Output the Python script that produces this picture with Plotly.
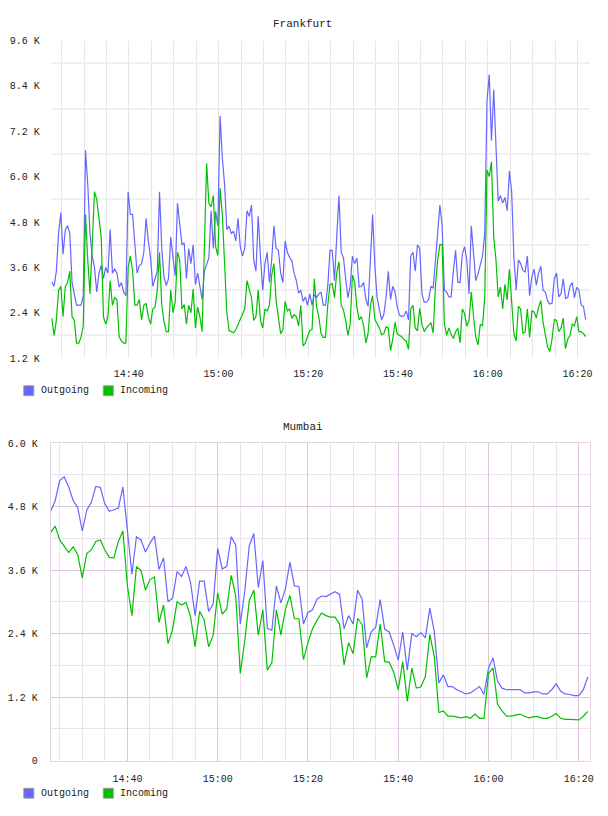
import numpy as np
import pandas as pd
import plotly.graph_objects as go

# ---------------- data (values in thousands) ----------------
fra_start = "2024-01-01 14:22:50"   # 30 s samples
fra_outgoing = [
    3.21, 3.1, 3.5, 4.5, 5.05, 3.95, 4.6, 4.7, 4.5, 3.2,
    2.9, 2.6, 2.6, 2.6, 2.85, 6.7, 5.8, 4.5, 3.9, 3.6,
    2.95, 3.45, 3.65, 3.3, 3.6, 3.45, 4.6, 3.45, 3.55, 3.45,
    3.08, 3.2, 2.95, 2.85, 5.6, 5.0, 5.0, 4.15, 3.45, 3.65,
    3.7, 4.0, 4.9, 4.3, 3.86, 3.1, 3.3, 3.5, 5.6, 4.1,
    3.35, 3.12, 3.3, 4.4, 3.86, 3.38, 5.3, 4.7, 4.2, 4.25,
    3.3, 4.1,
    3.7, 4.2, 3.15, 3.45, 3.05, 2.75, 3.5, 3.65, 3.85, 5.1,
    4.1, 5.08, 4.7, 7.6, 6.5, 5.8, 4.6, 4.69, 4.5, 4.56,
    4.3, 4.9, 4.15, 3.9, 4.1, 5.1, 4.95, 5.25, 3.8, 3.5,
    4.95, 3.9, 3.0, 3.7, 4.0, 3.2, 3.8, 4.7, 4.1, 4.05,
    3.45, 3.2, 4.3, 4.0, 3.86, 3.78, 3.45, 3.25, 2.92, 3.0,
    2.7, 2.82, 2.6, 2.9, 2.6, 2.88, 2.8, 2.9, 2.95, 2.6,
    2.6, 3.1, 4.05, 4.05, 3.25, 4.4, 5.5, 4.0, 3.86, 3.3,
    2.8, 3.1, 3.9, 3.7, 3.85, 3.08, 3.1, 3.2, 2.75, 2.57,
    3.9, 5.0, 3.65, 2.8, 2.5, 2.21, 2.36, 2.8, 3.5, 2.75,
    3.1, 2.95, 2.55, 2.34, 2.3, 2.32, 2.45, 2.21, 3.9, 4.0,
    3.5, 4.2, 4.1, 2.9, 2.68, 2.68, 2.75, 3.1, 3.05, 3.69,
    4.5, 5.25, 4.7, 3.0, 2.95, 2.82, 2.82, 3.5, 4.05, 3.21,
    3.2,
    3.95, 4.15, 3.8, 2.9, 4.7, 3.95, 3.25, 3.43, 3.7, 3.9,
    4.5, 8.0, 8.7, 6.95, 8.3, 6.8, 5.35, 5.5, 5.3, 5.45,
    5.1, 6.15, 5.6, 3.85, 3.0, 3.8, 3.7, 3.52, 3.48, 3.9,
    2.85, 3.35, 3.55, 3.13, 3.45, 3.63, 3.0, 2.95, 2.72, 2.63,
    2.65, 3.3, 3.45, 2.82, 2.9, 3.3, 2.78, 2.8, 3.1, 3.2,
    2.8, 3.07, 3.0, 2.6, 2.57, 2.22,
]
fra_incoming = [
    2.25, 1.8, 2.2, 3.0, 3.1, 2.3, 3.1, 3.2, 3.5, 2.3,
    2.2, 1.6, 1.6, 1.75, 2.05, 5.0, 3.8, 2.9, 4.2, 5.6,
    5.4, 4.95, 4.4, 2.3, 2.1, 2.3, 3.25, 2.6, 2.8, 2.75,
    1.77, 1.65, 1.6, 1.6, 3.6, 3.9, 3.5, 2.6, 2.6, 2.75,
    2.21, 2.6, 2.65, 2.3, 2.1, 2.5, 2.55, 3.0, 4.0, 2.6,
    2.17, 1.9, 1.9, 3.0, 2.4, 2.7, 4.0, 3.8, 2.5, 2.62,
    2.1, 2.6,
    2.4, 3.03, 2.0, 2.55, 2.3, 1.9, 4.0, 6.35, 5.3, 5.2,
    5.5, 4.15, 3.92, 5.7, 5.0, 3.5, 2.42, 1.93, 1.9, 1.87,
    1.95, 2.1, 2.25, 2.38, 2.5, 3.25, 3.0, 2.8, 2.2, 2.3,
    3.0, 2.2, 2.0, 2.5, 2.45, 2.6, 3.4, 3.7, 2.7, 2.33,
    1.85, 1.95, 2.7, 2.45, 2.5, 2.25, 2.35, 2.3, 2.05, 2.6,
    1.52, 1.6, 1.8, 1.93, 1.95, 3.3, 2.56, 2.3, 1.86, 1.75,
    1.75, 2.6, 3.15, 3.17, 2.8, 3.45, 3.75, 2.6, 2.47, 2.2,
    1.8, 2.1, 3.4, 3.2, 2.55, 2.21, 2.3, 2.05, 1.6, 1.86,
    2.6, 2.85, 2.23, 2.12, 2.0, 1.82, 1.85, 2.03, 2.0, 1.4,
    1.71, 2.15, 1.84, 1.8, 1.77, 1.69, 1.65, 1.43, 2.5, 2.6,
    2.0, 1.92, 2.52, 2.1, 1.9, 2.0, 2.07, 2.14, 1.86, 3.1,
    3.8, 4.2, 4.2, 2.1, 1.8, 2.0, 1.83, 1.72, 1.9, 1.99,
    1.6,
    2.5, 2.38, 2.05, 2.2, 2.95, 2.3, 1.75, 1.55, 2.1, 2.05,
    2.8, 6.18, 6.0, 6.4, 4.4, 3.8, 2.82, 3.08, 2.5, 3.15,
    2.74, 3.55, 2.65, 1.85, 1.65, 2.57, 2.5, 1.85, 1.9, 2.5,
    1.75, 2.45, 2.42, 2.26, 2.55, 2.72, 2.15, 1.8, 1.5, 1.38,
    1.7, 2.22, 2.2, 1.9, 2.0, 2.26, 1.45, 1.7, 1.8, 2.1,
    2.05, 2.3, 1.9, 1.9, 1.85, 1.77,
]

mum_start = "2024-01-01 14:23:00"   # 1 min samples
mum_outgoing = [
    4.71, 4.91, 5.29, 5.36, 5.17, 4.91, 4.78, 4.34, 4.73, 4.88,
    5.18, 5.16, 4.85, 4.71, 4.74, 4.77, 5.17, 4.35, 3.52, 4.23,
    4.17, 3.94, 4.11, 4.24, 3.61, 3.83, 3.0, 3.07, 3.57, 3.48,
    3.67, 3.36, 2.74, 3.39, 3.39, 2.82, 2.96, 4.01, 3.62, 3.67,
    4.23, 4.07, 2.58, 3.2, 4.06, 4.29, 3.27, 3.78, 2.5, 2.46,
    3.3, 2.98, 3.24, 3.75, 3.3, 3.29, 2.58, 2.8, 2.85, 3.05,
    3.11, 3.1, 3.14, 3.19, 3.14, 2.49, 2.74, 2.58, 3.22, 3.05,
    2.13, 2.43, 2.52, 3.04, 2.48, 2.43, 2.18, 1.9, 2.43, 1.71,
    2.4, 2.34, 2.42, 2.32, 2.88, 2.43, 1.47, 1.62, 1.4, 1.4,
    1.34, 1.3, 1.26, 1.28, 1.34, 1.4, 1.25, 1.75, 1.94, 1.5,
    1.37, 1.34, 1.34, 1.34, 1.34, 1.28, 1.28, 1.3, 1.3, 1.26,
    1.26, 1.34, 1.45, 1.31, 1.26, 1.25, 1.23, 1.23, 1.34, 1.58,
]
mum_incoming = [
    4.31, 4.43, 4.17, 4.04, 3.93, 4.04, 3.89, 3.45, 3.91, 3.98,
    4.14, 4.17, 3.98, 3.84, 3.83, 4.14, 4.34, 3.3, 2.74, 3.66,
    3.6, 3.22, 3.42, 3.47, 2.61, 2.94, 2.21, 2.47, 3.0, 2.94,
    2.99, 2.71, 2.15, 2.82, 2.66, 2.15, 2.37, 3.17, 2.77, 2.86,
    3.5, 3.11, 1.65, 2.27, 3.02, 3.22, 2.37, 2.85, 1.71, 1.85,
    2.85, 2.37, 2.86, 3.12, 2.68, 2.68, 1.91, 2.23, 2.49, 2.65,
    2.79, 2.74, 2.71, 2.71, 2.58, 1.81, 2.23, 2.02, 2.69, 2.57,
    1.56, 1.96, 1.96, 2.58, 1.87, 1.86, 1.67, 1.34, 1.87, 1.12,
    1.75, 1.37, 1.39, 1.59, 2.38, 1.96, 0.91, 0.94, 0.84, 0.84,
    0.83, 0.81, 0.83, 0.8, 0.88, 0.8, 0.8, 1.65, 1.75, 1.07,
    0.94, 0.84, 0.84, 0.86, 0.88, 0.84, 0.81, 0.83, 0.83, 0.8,
    0.8, 0.84, 0.89, 0.8, 0.78, 0.78, 0.77, 0.77, 0.84, 0.93,
]

series_names = ["Outgoing", "Incoming"]
fra_ticks = [1.2, 2.4, 3.6, 4.8, 6.0, 7.2, 8.4, 9.6]
fra_ticktext = ["1.2 K", "2.4 K", "3.6 K", "4.8 K", "6.0 K", "7.2 K", "8.4 K", "9.6 K"]
fra_grid = [1.8, 3.0, 4.2, 5.4, 6.6, 7.8, 9.0]
mum_ticks = [0, 1.2, 2.4, 3.6, 4.8, 6.0]
mum_ticktext = ["0", "1.2 K", "2.4 K", "3.6 K", "4.8 K", "6.0 K"]
mum_grid = [0.6, 1.8, 3.0, 4.2, 5.4]

# ---------------- styling ----------------
W, H = 608, 816
C_OUT = "#6666ff"
C_IN = "#00c000"
FONT = "Liberation Mono"
TXT = "#222222"

def px(x):
    return x / W

def py(y):
    return 1 - y / H

fra_t = pd.date_range(fra_start, periods=len(fra_outgoing), freq="30s")
mum_t = pd.date_range(mum_start, periods=len(mum_outgoing), freq="60s")

fig = go.Figure()
fig.add_trace(go.Scatter(x=fra_t, y=fra_outgoing, mode="lines", name=series_names[0],
                         line=dict(color=C_OUT, width=1.2), xaxis="x", yaxis="y", showlegend=False))
fig.add_trace(go.Scatter(x=fra_t, y=fra_incoming, mode="lines", name=series_names[1],
                         line=dict(color=C_IN, width=1.2), xaxis="x", yaxis="y", showlegend=False))
fig.add_trace(go.Scatter(x=mum_t, y=mum_outgoing, mode="lines", name=series_names[0],
                         line=dict(color=C_OUT, width=1.2), xaxis="x2", yaxis="y2", showlegend=False))
fig.add_trace(go.Scatter(x=mum_t, y=mum_incoming, mode="lines", name=series_names[1],
                         line=dict(color=C_IN, width=1.2), xaxis="x2", yaxis="y2", showlegend=False))

tickfont = dict(family=FONT, size=10, color=TXT)
xdom = [px(51), px(594)]

fig.update_layout(
    width=W, height=H,
    margin=dict(l=0, r=0, t=0, b=0),
    paper_bgcolor="white", plot_bgcolor="white",
    xaxis=dict(
        domain=xdom, anchor="y", type="date",
        range=["2024-01-01 14:22:34", "2024-01-01 16:22:49"],
        tick0="2024-01-01 14:40", dtick=20 * 60 * 1000, tickformat="%H:%M",
        showgrid=True, gridcolor="#e6e6e6", gridwidth=1,
        minor=dict(tick0="2024-01-01 14:25", dtick=5 * 60 * 1000, showgrid=True,
                   gridcolor="#e6e6e6", gridwidth=1),
        showline=False, zeroline=False, ticks="", tickfont=tickfont,
        ticklabelstandoff=8, fixedrange=True,
    ),
    yaxis=dict(
        domain=[py(359), py(37)], anchor="x",
        range=[1.2, 9.6], tickmode="array", tickvals=fra_ticks, ticktext=fra_ticktext,
        showgrid=False,
        minor=dict(tickmode="array", tickvals=fra_grid, showgrid=True,
                   gridcolor="#f0f0f0", gridwidth=2),
        showline=False, zeroline=False, ticks="", tickfont=tickfont,
        ticklabelstandoff=10,
    ),
    xaxis2=dict(
        domain=xdom, anchor="y2", type="date",
        range=["2024-01-01 14:23:00", "2024-01-01 16:22:30"],
        tick0="2024-01-01 14:40", dtick=20 * 60 * 1000, tickformat="%H:%M",
        showgrid=True, gridcolor="#dcc4dc", gridwidth=1,
        minor=dict(tick0="2024-01-01 14:25", dtick=5 * 60 * 1000, showgrid=True,
                   gridcolor="#ebe3eb", gridwidth=1),
        showline=True, linecolor="#e4d4e4", mirror=True,
        zeroline=False, ticks="", tickfont=tickfont,
        ticklabelstandoff=8,
    ),
    yaxis2=dict(
        domain=[py(767), py(445)], anchor="x2",
        range=[0, 6.0], tickmode="array", tickvals=mum_ticks, ticktext=mum_ticktext,
        showgrid=True, gridcolor="#dcc4dc", gridwidth=1,
        minor=dict(tickmode="array", tickvals=mum_grid, showgrid=True,
                   gridcolor="#ebe3eb", gridwidth=1),
        showline=True, linecolor="#e4d4e4", mirror=True,
        zeroline=False, ticks="", tickfont=tickfont,
        ticklabelstandoff=10,
    ),
)

# titles
for title, ycen in [("Frankfurt", 20), ("Mumbai", 429)]:
    fig.add_annotation(text=title, x=px(305), y=py(ycen), xref="paper", yref="paper",
                       showarrow=False, xanchor="center", yanchor="middle",
                       font=dict(family=FONT, size=11, color=TXT))

# legends (square swatch + label) below each panel
shapes = []
for ycen in [392, 800]:
    for (x0, label, color) in [(24, series_names[0], C_OUT), (104, series_names[1], C_IN)]:
        shapes.append(dict(type="rect", xref="paper", yref="paper",
                           x0=px(x0), x1=px(x0 + 10), y0=py(ycen + 5), y1=py(ycen - 5),
                           fillcolor=color, line=dict(color="#999999", width=1)))
        fig.add_annotation(text=label, x=px(x0 + 15), y=py(ycen), xref="paper", yref="paper",
                           showarrow=False, xanchor="left", yanchor="middle",
                           font=dict(family=FONT, size=10, color=TXT))
fig.update_layout(shapes=shapes)

fig.write_html("out.html")
